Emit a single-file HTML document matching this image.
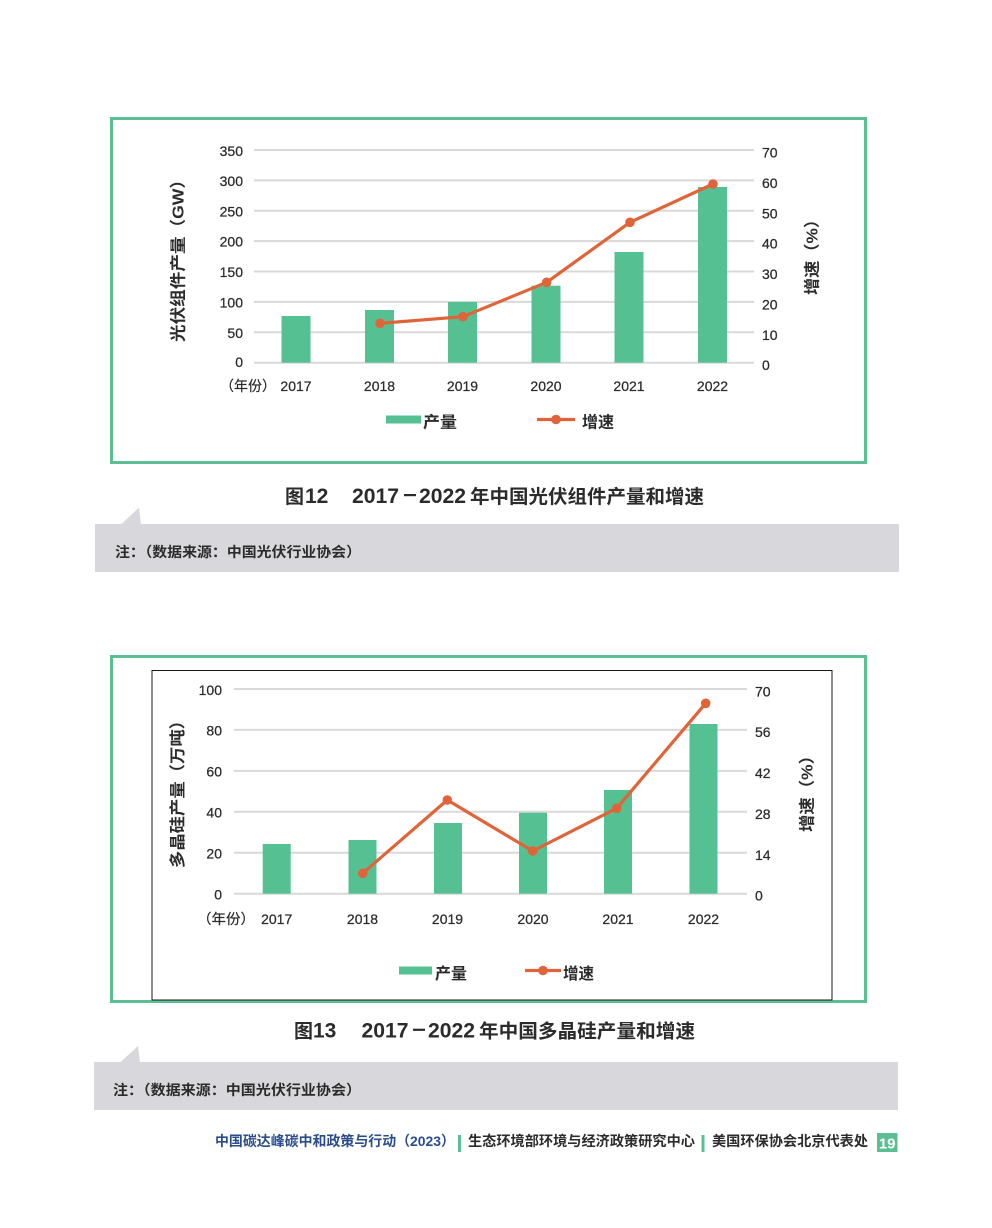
<!DOCTYPE html>
<html>
<head>
<meta charset="utf-8">
<style>
  html,body{margin:0;padding:0;background:#fff;}
  body{width:992px;height:1228px;overflow:hidden;}
  svg{display:block;}
  text{font-family:"Liberation Sans","Noto Sans CJK SC",sans-serif;}
  .tk{font-size:14px;fill:#2b2b2b;stroke:#2b2b2b;stroke-width:0.25;}
</style>
</head>
<body>
<svg width="992" height="1228" viewBox="0 0 992 1228" xmlns="http://www.w3.org/2000/svg">
  <rect x="0" y="0" width="992" height="1228" fill="#ffffff"/>

  <!-- ================= CHART 1 ================= -->
  <rect x="111.5" y="118.5" width="754" height="344" fill="none" stroke="#5cbf93" stroke-width="3"/>

  <g stroke="#d9d9d9" stroke-width="2">
    <line x1="254" y1="362.7" x2="754" y2="362.7"/>
    <line x1="254" y1="332.3" x2="754" y2="332.3"/>
    <line x1="254" y1="301.9" x2="754" y2="301.9"/>
    <line x1="254" y1="271.5" x2="754" y2="271.5"/>
    <line x1="254" y1="241.1" x2="754" y2="241.1"/>
    <line x1="254" y1="210.8" x2="754" y2="210.8"/>
    <line x1="254" y1="180.4" x2="754" y2="180.4"/>
    <line x1="254" y1="150" x2="754" y2="150"/>
  </g>

  <g class="tk" text-anchor="end">
    <text x="243" y="367">0</text>
    <text x="243" y="337.8">50</text>
    <text x="243" y="307.4">100</text>
    <text x="243" y="277">150</text>
    <text x="243" y="246.6">200</text>
    <text x="243" y="216.3">250</text>
    <text x="243" y="185.9">300</text>
    <text x="243" y="155.9">350</text>
  </g>
  <g class="tk">
    <text x="762" y="370.2">0</text>
    <text x="762" y="339.8">10</text>
    <text x="762" y="309.4">20</text>
    <text x="762" y="279">30</text>
    <text x="762" y="248.6">40</text>
    <text x="762" y="218.3">50</text>
    <text x="762" y="187.9">60</text>
    <text x="762" y="157.5">70</text>
  </g>

  <g fill="#55c193">
    <rect x="281.5" y="316" width="29" height="46.7"/>
    <rect x="365" y="310" width="29" height="52.7"/>
    <rect x="448" y="302" width="29" height="60.7"/>
    <rect x="531.5" y="285.7" width="29" height="77"/>
    <rect x="614.5" y="252" width="29" height="110.7"/>
    <rect x="698" y="187" width="29" height="175.7"/>
  </g>

  <polyline points="380,323.3 463,316.7 546.7,282.3 630,222.3 713,184" fill="none" stroke="#e0643a" stroke-width="3.2" stroke-linejoin="round"/>
  <g fill="#e0643a">
    <circle cx="380" cy="323.3" r="4.8"/>
    <circle cx="463" cy="316.7" r="4.8"/>
    <circle cx="546.7" cy="282.3" r="4.8"/>
    <circle cx="630" cy="222.3" r="4.8"/>
    <circle cx="713" cy="184" r="4.8"/>
  </g>

  <g class="tk" text-anchor="middle">
    <text x="296" y="391">2017</text>
    <text x="379.5" y="391">2018</text>
    <text x="462.5" y="391">2019</text>
    <text x="546" y="391">2020</text>
    <text x="629" y="391">2021</text>
    <text x="712.5" y="391">2022</text>
  </g>
  <text x="220" y="391" font-size="14" fill="#2b2b2b" stroke="#2b2b2b" stroke-width="0.2" textLength="56" lengthAdjust="spacingAndGlyphs">（年份）</text>

  <text transform="translate(183.5,256.5) rotate(-90)" text-anchor="middle" font-size="16" font-weight="bold" fill="#2b2b2b" textLength="171" lengthAdjust="spacingAndGlyphs">光伏组件产量（GW）</text>
  <text transform="translate(817.5,253) rotate(-90)" text-anchor="middle" font-size="16" font-weight="bold" fill="#2b2b2b" textLength="84" lengthAdjust="spacingAndGlyphs">增速（%）</text>

  <rect x="386" y="415.5" width="35" height="8" fill="#55c193"/>
  <text x="423" y="427.5" font-size="16" font-weight="bold" fill="#2b2b2b" textLength="34" lengthAdjust="spacingAndGlyphs">产量</text>
  <line x1="537" y1="419.5" x2="575" y2="419.5" stroke="#e0643a" stroke-width="3.2"/>
  <circle cx="556" cy="419.5" r="4.8" fill="#e0643a"/>
  <text x="582" y="427.5" font-size="16" font-weight="bold" fill="#2b2b2b" textLength="32" lengthAdjust="spacingAndGlyphs">增速</text>

  <g fill="#2b2b2b" font-weight="bold">
    <text x="285" y="503" font-size="19">图</text>
    <text x="305" y="503" font-size="21">12</text>
    <text x="352" y="503" font-size="21" textLength="47" lengthAdjust="spacingAndGlyphs">2017</text>
    <rect x="404" y="494" width="12" height="2.2"/>
    <text x="419" y="503" font-size="21" textLength="47" lengthAdjust="spacingAndGlyphs">2022</text>
    <text x="470" y="503" font-size="19" textLength="234" lengthAdjust="spacingAndGlyphs">年中国光伏组件产量和增速</text>
  </g>

  <polygon points="121,524.5 139,507.5 141,524.5" fill="#d8d8dc"/>
  <rect x="95" y="524" width="804" height="48" fill="#d8d8dc"/>
  <text x="115" y="557" font-size="14" font-weight="bold" fill="#2b2b2b" textLength="246" lengthAdjust="spacingAndGlyphs">注：（数据来源：中国光伏行业协会）</text>

  <!-- ================= CHART 2 ================= -->
  <rect x="111.5" y="656.5" width="754" height="345" fill="none" stroke="#5cbf93" stroke-width="3"/>
  <rect x="152" y="670.5" width="680" height="329.5" fill="none" stroke="#1a1a1a" stroke-width="1"/>

  <g stroke="#d9d9d9" stroke-width="2">
    <line x1="234" y1="893.7" x2="747" y2="893.7"/>
    <line x1="234" y1="852.8" x2="747" y2="852.8"/>
    <line x1="234" y1="811.8" x2="747" y2="811.8"/>
    <line x1="234" y1="770.9" x2="747" y2="770.9"/>
    <line x1="234" y1="729.9" x2="747" y2="729.9"/>
    <line x1="234" y1="689" x2="747" y2="689"/>
  </g>

  <g class="tk" text-anchor="end">
    <text x="222" y="899.3">0</text>
    <text x="222" y="858.4">20</text>
    <text x="222" y="817.4">40</text>
    <text x="222" y="776.5">60</text>
    <text x="222" y="735.5">80</text>
    <text x="222" y="694.8">100</text>
  </g>
  <g class="tk">
    <text x="755" y="900.7">0</text>
    <text x="755" y="859.8">14</text>
    <text x="755" y="818.8">28</text>
    <text x="755" y="777.9">42</text>
    <text x="755" y="736.9">56</text>
    <text x="755" y="696.5">70</text>
  </g>

  <g fill="#55c193">
    <rect x="262.7" y="844" width="28" height="49.7"/>
    <rect x="348.5" y="840" width="28" height="53.7"/>
    <rect x="434" y="823" width="28" height="70.7"/>
    <rect x="519" y="812.7" width="28" height="81"/>
    <rect x="604" y="790" width="28" height="103.7"/>
    <rect x="689.5" y="724" width="28" height="169.7"/>
  </g>

  <polyline points="362.7,873.3 447.3,800 532.7,851 616.7,808.3 705.7,703.3" fill="none" stroke="#e0643a" stroke-width="3.2" stroke-linejoin="round"/>
  <g fill="#e0643a">
    <circle cx="362.7" cy="873.3" r="4.8"/>
    <circle cx="447.3" cy="800" r="4.8"/>
    <circle cx="532.7" cy="851" r="4.8"/>
    <circle cx="616.7" cy="808.3" r="4.8"/>
    <circle cx="705.7" cy="703.3" r="4.8"/>
  </g>

  <g class="tk" text-anchor="middle">
    <text x="276.7" y="924">2017</text>
    <text x="362.5" y="924">2018</text>
    <text x="447.5" y="924">2019</text>
    <text x="533" y="924">2020</text>
    <text x="618" y="924">2021</text>
    <text x="703.5" y="924">2022</text>
  </g>
  <text x="197" y="924" font-size="14" fill="#2b2b2b" stroke="#2b2b2b" stroke-width="0.2" textLength="58" lengthAdjust="spacingAndGlyphs">（年份）</text>

  <text transform="translate(183,790) rotate(-90)" text-anchor="middle" font-size="16" font-weight="bold" fill="#2b2b2b" textLength="156" lengthAdjust="spacingAndGlyphs">多晶硅产量（万吨）</text>
  <text transform="translate(812.5,789.5) rotate(-90)" text-anchor="middle" font-size="16" font-weight="bold" fill="#2b2b2b" textLength="85" lengthAdjust="spacingAndGlyphs">增速（%）</text>

  <rect x="399" y="966.5" width="33" height="8" fill="#55c193"/>
  <text x="435" y="979" font-size="16" font-weight="bold" fill="#2b2b2b" textLength="32" lengthAdjust="spacingAndGlyphs">产量</text>
  <line x1="525" y1="970.5" x2="561" y2="970.5" stroke="#e0643a" stroke-width="3.2"/>
  <circle cx="543" cy="970.5" r="4.8" fill="#e0643a"/>
  <text x="563" y="979" font-size="16" font-weight="bold" fill="#2b2b2b" textLength="31" lengthAdjust="spacingAndGlyphs">增速</text>

  <g fill="#2b2b2b" font-weight="bold">
    <text x="294" y="1037.7" font-size="19">图</text>
    <text x="313" y="1037.7" font-size="21">13</text>
    <text x="361.5" y="1037.7" font-size="21" textLength="47" lengthAdjust="spacingAndGlyphs">2017</text>
    <rect x="413" y="1028.7" width="12" height="2.2"/>
    <text x="428" y="1037.7" font-size="21" textLength="47" lengthAdjust="spacingAndGlyphs">2022</text>
    <text x="479" y="1037.7" font-size="19" textLength="216" lengthAdjust="spacingAndGlyphs">年中国多晶硅产量和增速</text>
  </g>

  <polygon points="120,1062.5 138,1046 140,1062.5" fill="#d8d8dc"/>
  <rect x="94" y="1062" width="804" height="48" fill="#d8d8dc"/>
  <text x="113" y="1095" font-size="14" font-weight="bold" fill="#2b2b2b" textLength="248" lengthAdjust="spacingAndGlyphs">注：（数据来源：中国光伏行业协会）</text>

  <!-- ================= FOOTER ================= -->
  <text x="215" y="1146" font-size="14" font-weight="bold" fill="#2b4c8e" textLength="240" lengthAdjust="spacingAndGlyphs">中国碳达峰碳中和政策与行动（2023）</text>
  <rect x="458" y="1135" width="3" height="17" fill="#5cbf93"/>
  <text x="468" y="1146" font-size="14" font-weight="bold" fill="#2b2b2b" textLength="227" lengthAdjust="spacingAndGlyphs">生态环境部环境与经济政策研究中心</text>
  <rect x="701.5" y="1135" width="3" height="17" fill="#5cbf93"/>
  <text x="712" y="1146" font-size="14" font-weight="bold" fill="#2b2b2b" textLength="156" lengthAdjust="spacingAndGlyphs">美国环保协会北京代表处</text>
  <rect x="877" y="1133" width="20.5" height="19" fill="#5cbf93"/>
  <text x="887.2" y="1148.5" font-size="15" font-weight="bold" fill="#ffffff" text-anchor="middle">19</text>
</svg>
</body>
</html>
